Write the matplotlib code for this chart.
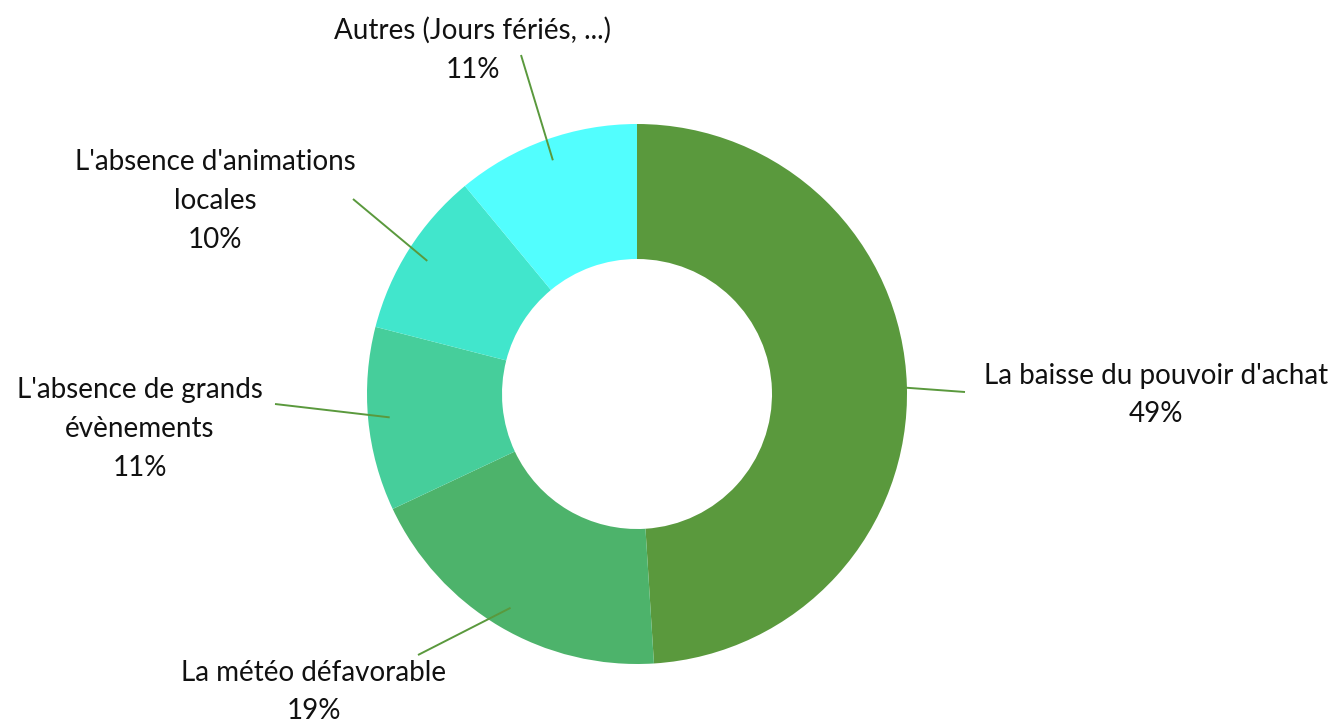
import numpy as np
import matplotlib
matplotlib.use("Agg")
import matplotlib.pyplot as plt

labels = ["La baisse du pouvoir d'achat", "La météo défavorable",
          "L'absence de grands\névènements", "L'absence d'animations\nlocales",
          "Autres (Jours fériés, ...)"]
values = [49, 19, 11, 10, 11]
colors = ["#5a993d", "#4db36b", "#46ce9b", "#41e6cc", "#52fefe"]

# layout (pixel positions in the 1337x722 canvas)
W, H = 1337, 722
cx, cy, R = 637, 394, 270
label_pos = [(1156, 395), (314, 692), (140, 429), (215, 201), (473, 50)]
leader_end = [(965, 392), (418, 655), (275, 404), (353, 199), (521, 55)]

plt.rcParams['font.family'] = ['Lato', 'DejaVu Sans']
fig = plt.figure(figsize=(W / 100, H / 100), dpi=100)
ax = fig.add_axes([0, 0, 1, 1])

def px(p):
    return ((p[0] - cx) / R, (cy - p[1]) / R)

wedges, _ = ax.pie(values, colors=colors, startangle=90, counterclock=False,
                   radius=1.0, wedgeprops=dict(width=0.5, linewidth=0))
ax.set_xlim(-cx / R, (W - cx) / R)
ax.set_ylim(-(H - cy) / R, cy / R)
ax.set_aspect('equal')
ax.axis('off')

for w, lab, v, lp, le in zip(wedges, labels, values, label_pos, leader_end):
    ang = np.deg2rad((w.theta1 + w.theta2) / 2)
    start = (0.92 * np.cos(ang), 0.92 * np.sin(ang))
    end = px(le)
    ax.plot([start[0], end[0]], [start[1], end[1]], color="#5a993d", lw=1.4,
            solid_capstyle='butt', zorder=3)
    tx, ty = px(lp)
    ax.text(tx, ty, f"{lab}\n{v}%", ha='center', va='center', fontsize=20,
            fontweight='normal', color='#111111', linespacing=1.6)

fig.savefig("out.png", dpi=100)
